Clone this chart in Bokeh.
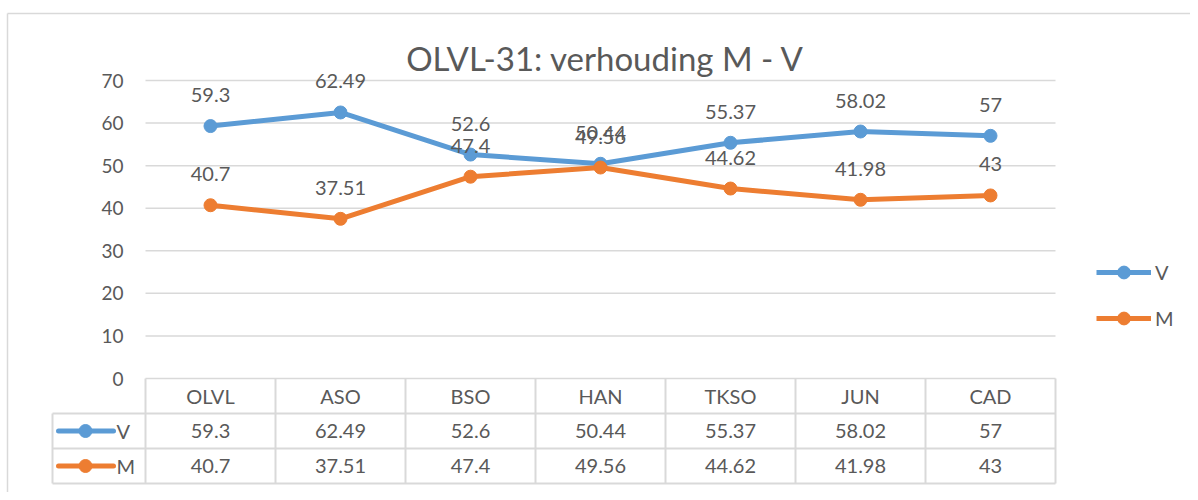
from bokeh.plotting import figure
from bokeh.models import Range1d, Label, Legend, LegendItem, ColumnDataSource
from bokeh.core.properties import value
from bokeh.embed import file_html
from bokeh.resources import INLINE

# ---- data ----
categories = ["OLVL", "ASO", "BSO", "HAN", "TKSO", "JUN", "CAD"]
v_values = [59.3, 62.49, 52.6, 50.44, 55.37, 58.02, 57]
m_values = [40.7, 37.51, 47.4, 49.56, 44.62, 41.98, 43]
series_names = ["V", "M"]
y_ticks = [0, 10, 20, 30, 40, 50, 60, 70]
title_text = "OLVL-31: verhouding M - V"

# ---- style ----
FONT = "Lato"
TXT = "#595959"
GRID = "#d9d9d9"
C_V = "#5B9BD5"
C_M = "#ED7D31"

W, H = 1190, 492
PX_X = 130.0            # pixels per category
PX_Y = 298.0 / 70.0     # pixels per y unit
X0_PAGE = 210.0         # x of first category centre
Y0_PAGE = 378.0         # y of value 0


def xp(px):
    return (px - X0_PAGE) / PX_X


def yp(py):
    return (Y0_PAGE - py) / PX_Y


x_start, x_end = xp(0), xp(W)
y_top, y_bot = yp(0), yp(H)

p = figure(width=W, height=H, x_range=Range1d(x_start, x_end),
           y_range=Range1d(y_bot, y_top), output_backend="svg",
           toolbar_location=None, x_axis_location=None, y_axis_location=None,
           min_border_left=0, min_border_right=0, min_border_top=0,
           min_border_bottom=0)
p.xgrid.visible = False
p.ygrid.visible = False
p.outline_line_color = None
p.background_fill_color = "white"

# chart-area border (top and left edges are the visible ones)
p.segment(x0=[xp(7), xp(7)], x1=[x_end + 1, xp(7)],
          y0=[yp(13), yp(13)], y1=[yp(13), y_bot - 1],
          line_color=GRID, line_width=1.5)

n = len(categories)
xs = list(range(n))
left_edge = -0.5
right_edge = n - 0.5

# gridlines (including the 0 baseline = table top)
p.segment(x0=[left_edge] * len(y_ticks), x1=[right_edge] * len(y_ticks),
          y0=y_ticks, y1=y_ticks, line_color=GRID, line_width=1.5)

# y tick labels
p.text(x=[xp(123)] * len(y_ticks), y=y_ticks, text=[str(t) for t in y_ticks],
       text_align="right", text_baseline="middle", text_color=TXT,
       text_font=value(FONT), text_font_size="19px")

# ---- data table ----
row_h = 35 / PX_Y
r1 = 0 - row_h
r2 = 0 - 2 * row_h
r3 = 0 - 3 * row_h
tbl_left = xp(52)
p.segment(x0=[tbl_left] * 3, x1=[right_edge] * 3, y0=[r1, r2, r3], y1=[r1, r2, r3],
          line_color=GRID, line_width=2)
vx = [left_edge + k for k in range(n + 1)]
p.segment(x0=vx, x1=vx, y0=[0] * len(vx), y1=[r3] * len(vx),
          line_color=GRID, line_width=2)
p.segment(x0=[tbl_left], x1=[tbl_left], y0=[r1], y1=[r3],
          line_color=GRID, line_width=2)

fmt = lambda a: f"{a:g}"
p.text(x=xs, y=[r1 / 2] * n, text=categories, text_align="center",
       text_baseline="middle", text_color=TXT, text_font=value(FONT),
       text_font_size="20px")
p.text(x=xs, y=[(r1 + r2) / 2] * n, text=[fmt(a) for a in v_values],
       text_align="center", text_baseline="middle", text_color=TXT,
       text_font=value(FONT), text_font_size="20px")
p.text(x=xs, y=[(r2 + r3) / 2] * n, text=[fmt(a) for a in m_values],
       text_align="center", text_baseline="middle", text_color=TXT,
       text_font=value(FONT), text_font_size="20px")

# legend keys inside the table
key_y = [(r1 + r2) / 2, (r2 + r3) / 2]
for ky, col, name in zip(key_y, [C_V, C_M], series_names):
    p.line(x=[xp(58), xp(113)], y=[ky, ky], line_color=col, line_width=5,
           line_cap="round")
    p.scatter(x=[xp(85)], y=[ky], size=13, fill_color=col, line_color=col)
    p.text(x=[xp(116)], y=[ky], text=[name], text_align="left",
           text_baseline="middle", text_color=TXT, text_font=value(FONT),
           text_font_size="20px")

# ---- series ----
src = ColumnDataSource(dict(x=xs, v=v_values, m=m_values,
                            vl=[fmt(a) for a in v_values],
                            ml=[fmt(a) for a in m_values]))
lv = p.line("x", "v", source=src, line_color=C_V, line_width=5)
sv = p.scatter("x", "v", source=src, size=13, fill_color=C_V, line_color=C_V)
lm = p.line("x", "m", source=src, line_color=C_M, line_width=5)
sm = p.scatter("x", "m", source=src, size=13, fill_color=C_M, line_color=C_M)

p.text("x", "v", text="vl", source=src, text_align="center",
       text_baseline="middle", y_offset=-31, text_color=TXT,
       text_font=value(FONT), text_font_size="20px")
p.text("x", "m", text="ml", source=src, text_align="center",
       text_baseline="middle", y_offset=-31, text_color=TXT,
       text_font=value(FONT), text_font_size="20px")

# title
p.add_layout(Label(x=xp(605), y=yp(57), text=title_text, text_align="center",
                   text_baseline="middle", text_color=TXT,
                   text_font=FONT, text_font_size="33px"))

# legend at right
legend = Legend(items=[LegendItem(label=series_names[0], renderers=[lv, sv]),
                       LegendItem(label=series_names[1], renderers=[lm, sm])],
                location=(1096, 158), glyph_width=55, glyph_height=32,
                label_height=32, spacing=14, padding=0, margin=0,
                border_line_color=None, background_fill_alpha=0,
                label_text_font=FONT, label_text_font_size="20px",
                label_text_color=TXT, label_standoff=4)
p.add_layout(legend)

open("out.html", "w").write(file_html(p, INLINE))
